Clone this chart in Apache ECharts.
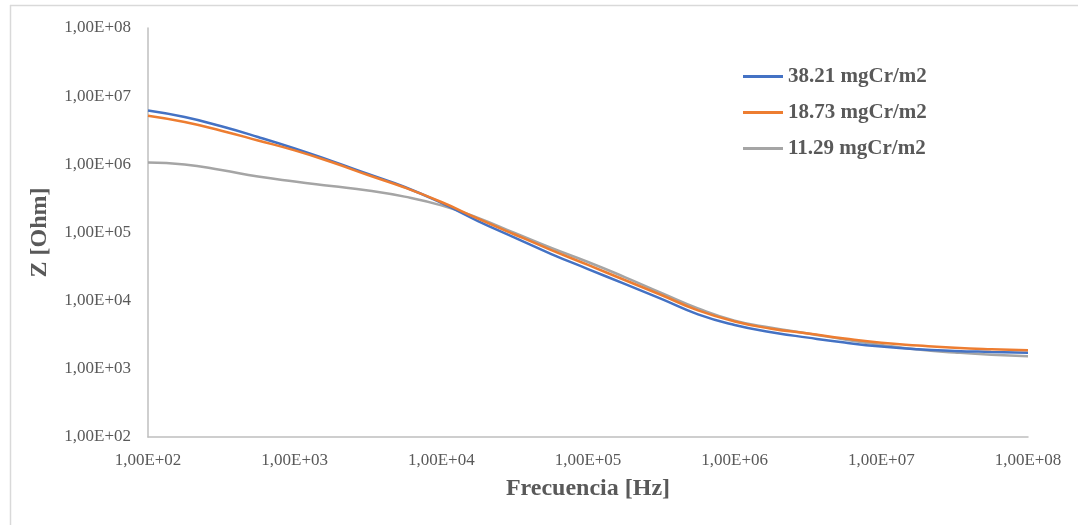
<!DOCTYPE html>
<html>
<head>
<meta charset="utf-8">
<script src="https://cdn.jsdelivr.net/npm/echarts@6/dist/echarts.min.js"></script>
<style>
html,body{margin:0;padding:0;background:#fff;}
#chart{width:1086px;height:525px;}
</style>
</head>
<body>
<div id="chart"></div>
<script>
// Frequency [Hz] (quarter-decade samples)
var frequencies = [100, 177.8, 316.2, 562.3, 1000, 1778, 3162, 5623, 10000, 17780, 31620, 56230, 100000, 177800, 316200, 562300, 1000000, 1778000, 3162000, 5623000, 10000000, 17780000, 31620000, 56230000, 100000000];
var seriesNames = ['38.21 mgCr/m2', '18.73 mgCr/m2', '11.29 mgCr/m2'];
var z38 = [6.16e6, 4.94e6, 3.61e6, 2.52e6, 1.71e6, 1.12e6, 7.21e5, 4.65e5, 2.71e5, 1.47e5, 8.41e4, 4.83e4, 2.91e4, 1.76e4, 1.06e4, 6.3e3, 4.4e3, 3.45e3, 2.87e3, 2.43e3, 2.12e3, 1.93e3, 1.83e3, 1.77e3, 1.72e3];
var z18 = [5.17e6, 4.18e6, 3.11e6, 2.24e6, 1.60e6, 1.08e6, 6.97e5, 4.57e5, 2.80e5, 1.60e5, 9.35e4, 5.53e4, 3.34e4, 2.01e4, 1.21e4, 7.2e3, 4.95e3, 3.88e3, 3.30e3, 2.79e3, 2.42e3, 2.20e3, 2.03e3, 1.93e3, 1.87e3];
var z11 = [1.06e6, 9.94e5, 8.26e5, 6.63e5, 5.60e5, 4.81e5, 4.13e5, 3.36e5, 2.50e5, 1.64e5, 9.84e4, 5.92e4, 3.69e4, 2.22e4, 1.30e4, 7.7e3, 5.1e3, 4.0e3, 3.30e3, 2.69e3, 2.24e3, 1.92e3, 1.74e3, 1.61e3, 1.53e3];
var xAxisTitle = 'Frecuencia [Hz]';
var yAxisTitle = 'Z [Ohm]';

function pairs(ys) {
  return frequencies.map(function (f, i) { return [f, ys[i]]; });
}
function sciLabel(v) {
  var e = Math.round(Math.log10(v));
  return '1,00E+' + (e < 10 ? '0' + e : e);
}

var FONT = '"Liberation Serif", "Times New Roman", serif';
var chart = echarts.init(document.getElementById('chart'), null, {renderer: 'canvas'});
var colors = ['#4472C4', '#ED7D31', '#A5A5A5'];
var option = {
  animation: false,
  backgroundColor: '#ffffff',
  color: colors,
  graphic: [
    {type: 'line', shape: {x1: 10, y1: 5.5, x2: 1078, y2: 5.5}, style: {stroke: '#D9D9D9', lineWidth: 1.5}},
    {type: 'line', shape: {x1: 10.5, y1: 5, x2: 10.5, y2: 525}, style: {stroke: '#D9D9D9', lineWidth: 1.5}}
  ],
  grid: {left: 148, right: 58, top: 28, bottom: 88, containLabel: false},
  legend: {
    orient: 'vertical',
    left: 743,
    top: 66,
    padding: 0,
    itemWidth: 40,
    itemHeight: 3,
    itemGap: 15,
    icon: 'rect',
    data: seriesNames,
    textStyle: {fontFamily: FONT, fontSize: 21, fontWeight: 'bold', color: '#595959', lineHeight: 21}
  },
  xAxis: {
    type: 'log',
    logBase: 10,
    min: 100,
    max: 100000000,
    interval: 1,
    name: xAxisTitle,
    nameLocation: 'middle',
    nameGap: 40,
    nameTextStyle: {fontFamily: FONT, fontSize: 24, fontWeight: 'bold', color: '#595959'},
    axisLine: {show: true, lineStyle: {color: '#BFBFBF', width: 1.5}},
    axisTick: {show: false},
    splitLine: {show: false},
    minorTick: {show: false},
    axisLabel: {formatter: sciLabel, fontFamily: FONT, fontSize: 17, color: '#595959', margin: 15}
  },
  yAxis: {
    type: 'log',
    logBase: 10,
    min: 100,
    max: 100000000,
    interval: 1,
    name: yAxisTitle,
    nameLocation: 'middle',
    nameGap: 96,
    nameRotate: 90,
    nameTextStyle: {fontFamily: FONT, fontSize: 24, fontWeight: 'bold', color: '#595959'},
    axisLine: {show: true, lineStyle: {color: '#BFBFBF', width: 1.5}},
    axisTick: {show: false},
    splitLine: {show: false},
    axisLabel: {formatter: sciLabel, fontFamily: FONT, fontSize: 17, color: '#595959', margin: 17}
  },
  series: [
    {name: seriesNames[0], type: 'line', data: pairs(z38), smooth: 0.5, symbol: 'none', lineStyle: {width: 2.5, color: colors[0]}, z: 3},
    {name: seriesNames[1], type: 'line', data: pairs(z18), smooth: 0.5, symbol: 'none', lineStyle: {width: 2.5, color: colors[1]}, z: 4},
    {name: seriesNames[2], type: 'line', data: pairs(z11), smooth: 0.5, symbol: 'none', lineStyle: {width: 2.5, color: colors[2]}, z: 2}
  ]
};
chart.setOption(option);
</script>
</body>
</html>
